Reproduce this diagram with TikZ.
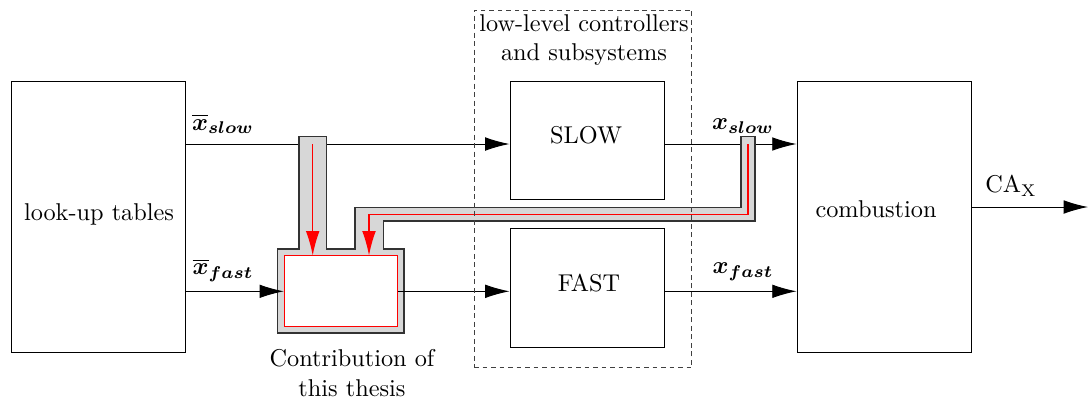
\documentclass[tikz,border=0pt]{standalone}
\usepackage{amsmath,bm}
\usetikzlibrary{arrows.meta}
\definecolor{thesisfill}{RGB}{215,215,215}
\definecolor{feedcol}{RGB}{255,0,0}

\begin{document}
\begin{tikzpicture}[
  x=0.01447cm, y=-0.01447cm,
  blk/.style={draw, line width=0.4pt, inner sep=0pt},
  sig/.style={draw, line width=0.4pt, -{Latex[length=10pt,width=5.6pt]}},
  feed/.style={draw=feedcol, line width=0.5pt, -{Latex[length=10pt,width=5.6pt]}},
  thesis/.style={draw=black!80, line width=0.5pt, fill=thesisfill},
  grp/.style={draw=black!75, line width=0.4pt, dash pattern=on 2pt off 1.5pt},
  txt/.style={inner sep=1pt, align=center},
]
\useasboundingbox (0,0) rectangle (1088,399);

% ---- Blocks ----
\node[blk, minimum width=72pt, minimum height=111.9pt] (lookup) at (98.5,217) {};
\node[blk, minimum width=63.4pt, minimum height=48.8pt] (slow)  at (587,140.5) {};
\node[blk, minimum width=63.4pt, minimum height=48.8pt] (fast)  at (587,288) {};
\node[blk, minimum width=72pt, minimum height=111.9pt] (comb)   at (884.5,217) {};

\node[txt] (lookuptxt) at (99,214)  {look-up tables};
\node[txt] (slowtxt)   at (586,135) {SLOW};
\node[txt] (fasttxt)   at (589,283) {FAST};
\node[txt] (combtxt)   at (876,209) {combustion};

% ---- Helper coordinates ----
\coordinate (slowline) at (0,144);
\coordinate (caout)    at (1088,207);
\coordinate (tapslow)  at (312.7,144);
\coordinate (tapx)     at (748,144);
\coordinate (bend)     at (369,214.3);

% ---- Signals ----
\draw[sig] (lookup.east |- slowline) -- (slow.west |- slowline);
\draw[sig] (slow.east |- slowline) -- (comb.west |- slowline);
\draw[sig] (comb.east |- caout) -- (caout);

% ---- Contribution of this thesis ----
\draw[thesis] (277.7,333) -- (277.7,249) -- (299,249) -- (299,136.7)
  -- (326.7,136.7) -- (326.7,249) -- (355,249) -- (355,207.3)
  -- (741,207.3) -- (741,136.7) -- (755,136.7) -- (755,221)
  -- (383.3,221) -- (383.3,249) -- (404,249) -- (404,333) -- cycle;
\node[blk, draw=feedcol, fill=white, minimum width=46.5pt, minimum height=29.1pt]
  (contrib) at (340.8,291.3) {};

\draw[sig] (lookup.east |- contrib.west) -- (contrib.west);
\draw[sig] (contrib.east) -- (fast.west |- contrib.east);
\draw[sig] (fast.east |- contrib.east) -- (comb.west |- contrib.east);

\draw[feed] (tapslow) -- (tapslow |- contrib.north);
\draw[feed] (tapx) |- (bend) -- (bend |- contrib.north);

% ---- Low-level group ----
\node[grp, minimum width=89.7pt, minimum height=147.3pt] (lowlvl) at (583,189) {};
\node[txt] (lowlvltxt) at (584,40) {low-level controllers\\and subsystems};

% ---- Labels ----
\node[txt] (xslowbar) at (223,124) {$\overline{\bm{x}}_{\bm{slow}}$};
\node[txt] (xfastbar) at (223,270) {$\overline{\bm{x}}_{\bm{fast}}$};
\node[txt] (xslow)    at (743,126) {$\bm{x}_{\bm{slow}}$};
\node[txt] (xfast)    at (743,272) {$\bm{x}_{\bm{fast}}$};
\node[txt] (cax)      at (1011,186) {$\mathrm{CA}_\mathrm{X}$};
\node[txt] (contribtxt) at (352,373) {Contribution of\\this thesis};

\end{tikzpicture}
\end{document}
